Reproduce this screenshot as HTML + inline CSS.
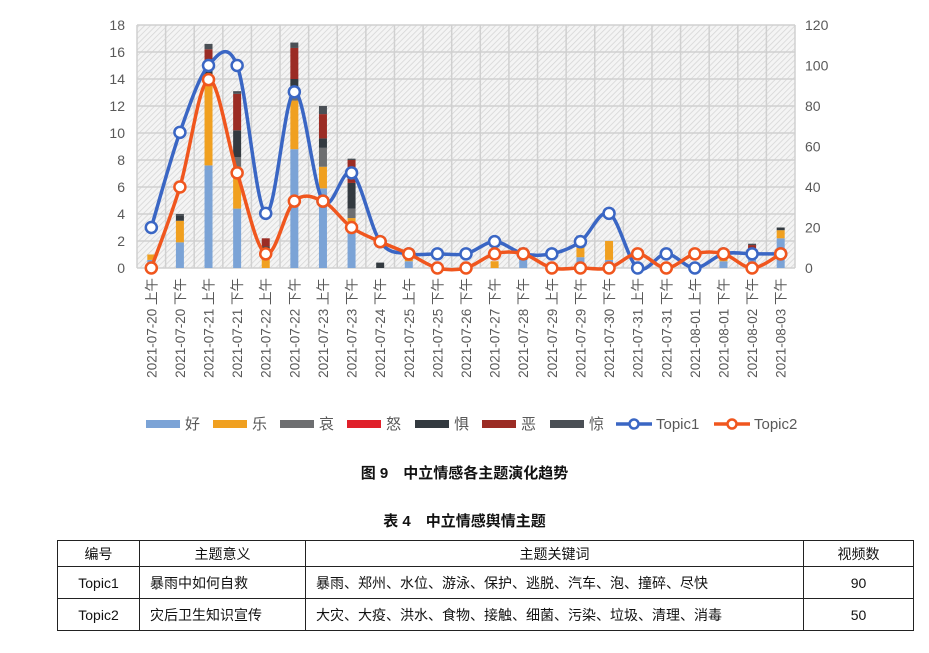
<!DOCTYPE html>
<html><head><meta charset="utf-8"><style>
body{margin:0;background:#fff;width:929px;height:653px;overflow:hidden;font-family:"Liberation Sans","Noto Sans CJK SC",sans-serif;}
#cap{position:absolute;left:0;width:929px;text-align:center;font-weight:bold;font-size:15px;color:#111;}
table{position:absolute;left:57px;top:540px;border-collapse:collapse;font-size:14px;color:#111;}
td{border:1px solid #222;padding:0 10px;height:31px;}
</style></head><body>
<svg id="s" width="929" height="460" style="position:absolute;left:0;top:0" font-family="Liberation Sans, Noto Sans CJK SC, sans-serif">
<defs><pattern id="h" width="4" height="4" patternUnits="userSpaceOnUse" patternTransform="rotate(45)"><rect width="4" height="4" fill="#f4f4f4"/><line x1="0" y1="0" x2="0" y2="4" stroke="#d4d4d4" stroke-width="1.5"/></pattern></defs>
<rect x="137" y="25" width="658" height="243" fill="url(#h)"/>
<g id="g"></g>
</svg>
<div id="cap" style="top:462px">图 9　中立情感各主题演化趋势</div>
<div id="cap" style="top:510px">表 4　中立情感舆情主题</div>
<table>
<tr style="height:26px"><td style="width:61px;text-align:center;height:24px">编号</td><td style="width:145px;text-align:center;height:24px">主题意义</td><td style="width:477px;text-align:center;height:24px">主题关键词</td><td style="width:89px;text-align:center;height:24px">视频数</td></tr>
<tr><td style="text-align:center">Topic1</td><td>暴雨中如何自救</td><td>暴雨、郑州、水位、游泳、保护、逃脱、汽车、泡、撞碎、尽快</td><td style="text-align:center">90</td></tr>
<tr><td style="text-align:center">Topic2</td><td>灾后卫生知识宣传</td><td>大灾、大疫、洪水、食物、接触、细菌、污染、垃圾、清理、消毒</td><td style="text-align:center">50</td></tr>
</table>
<script>
var g=document.getElementById('g'),o='';
var X0=137,W=658/23,Y0=268,U=13.5,R=243/120;
function cx(i){return X0+W*(i+0.5);}
for(var k=0;k<=9;k++){var y=Y0-k*27;o+='<line x1="137" x2="795" y1="'+y+'" y2="'+y+'" stroke="#d0d0d0" stroke-width="1.5"/>';
o+='<text x="125" y="'+(y+5)+'" font-size="14" fill="#595959" text-anchor="end">'+(k*2)+'</text>';}
for(var k=0;k<=6;k++){var y=Y0-k*40.5;o+='<text x="805" y="'+(y+5)+'" font-size="14" fill="#595959">'+(k*20)+'</text>';}
for(var i=0;i<=23;i++){var x=X0+W*i;o+='<line x1="'+x+'" x2="'+x+'" y1="25" y2="268" stroke="#d0d0d0" stroke-width="1.5"/>';}
var labs=['2021-07-20 上午','2021-07-20 下午','2021-07-21 上午','2021-07-21 下午','2021-07-22 上午','2021-07-22 下午','2021-07-23 上午','2021-07-23 下午','2021-07-24 下午','2021-07-25 上午','2021-07-25 下午','2021-07-26 下午','2021-07-27 下午','2021-07-28 下午','2021-07-29 上午','2021-07-29 下午','2021-07-30 下午','2021-07-31 上午','2021-07-31 下午','2021-08-01 上午','2021-08-01 下午','2021-08-02 下午','2021-08-03 下午'];
var cols=['#7ba3d6','#f0a020','#6d6e70','#e0202a','#333a40','#9b2c24','#4a4f55'];
var bars=[[0.6,0.4],[1.9,1.6,0,0,0.4,0,0.1],[7.6,5.9,0.5,0,1,1.2,0.4],[4.4,3.1,0.7,0,2,2.7,0.2],[0,1,0,0,0.6,0.6],[8.8,3.6,0.3,0,1.3,2.3,0.4],[5.9,1.6,1.4,0,0.7,1.8,0.6],[2.6,1.1,0.7,0,1.9,1.7,0.1],[0,0,0,0,0.4],[0.5,0.2],[0,0,0,0,0.2],[],[0,0.5],[0.6,0,0,0,0,0.9],[],[0.8,0.7,0.3,0,0,0.5,0.1],[0.6,1.4],[],[],[],[0.5,0.3],[0.8,0.3,0.3,0,0,0.3,0.1],[2.2,0.6,0,0,0.2]];
for(var i=0;i<23;i++){var y=Y0,b=bars[i];for(var j=0;j<b.length;j++){if(!b[j])continue;var h=b[j]*U;y-=h;o+='<rect x="'+(cx(i)-4)+'" y="'+y+'" width="8" height="'+h+'" fill="'+cols[j]+'"/>';}
o+='<text transform="translate('+(cx(i)+5)+',278) rotate(-90)" font-size="13.5" fill="#595959" text-anchor="end">'+labs[i]+'</text>';}
function line(d,c){var p=d.map(function(v,i){return [cx(i),Y0-v*R];});var s='M'+p[0][0]+','+p[0][1];
for(var i=0;i<p.length-1;i++){var a=p[Math.max(i-1,0)],b=p[i],c2=p[i+1],e=p[Math.min(i+2,p.length-1)],t=6;
s+=' C'+(b[0]+(c2[0]-a[0])/t)+','+(b[1]+(c2[1]-a[1])/t)+' '+(c2[0]-(e[0]-b[0])/t)+','+(c2[1]-(e[1]-b[1])/t)+' '+c2[0]+','+c2[1];}
o+='<path d="'+s+'" fill="none" stroke="'+c+'" stroke-width="3.5"/>';
p.forEach(function(q){o+='<circle cx="'+q[0]+'" cy="'+q[1]+'" r="5.5" fill="#fff" stroke="'+c+'" stroke-width="2.5"/>';});}
line([20,67,100,100,27,87,33,47,13,7,7,7,13,7,7,13,27,0,7,0,7,7,7],'#3a66c4');
line([0,40,93,47,7,33,33,20,13,7,0,0,7,7,0,0,0,7,0,7,7,0,7],'#f0561e');
var L=[['好',146],['乐',213],['哀',280],['怒',347],['惧',415],['恶',482],['惊',550]];
L.forEach(function(l,j){o+='<rect x="'+l[1]+'" y="420" width="34" height="8" fill="'+cols[j]+'"/><text x="'+(l[1]+39)+'" y="429" font-size="15" fill="#595959">'+l[0]+'</text>';});
o+='<line x1="616" x2="652" y1="424" y2="424" stroke="#3a66c4" stroke-width="3.5"/><circle cx="634" cy="424" r="4.5" fill="#fff" stroke="#3a66c4" stroke-width="2.5"/><text x="656" y="429" font-size="15" fill="#595959">Topic1</text>';
o+='<line x1="714" x2="750" y1="424" y2="424" stroke="#f0561e" stroke-width="3.5"/><circle cx="732" cy="424" r="4.5" fill="#fff" stroke="#f0561e" stroke-width="2.5"/><text x="754" y="429" font-size="15" fill="#595959">Topic2</text>';
g.innerHTML=o;
</script>
</body></html>
